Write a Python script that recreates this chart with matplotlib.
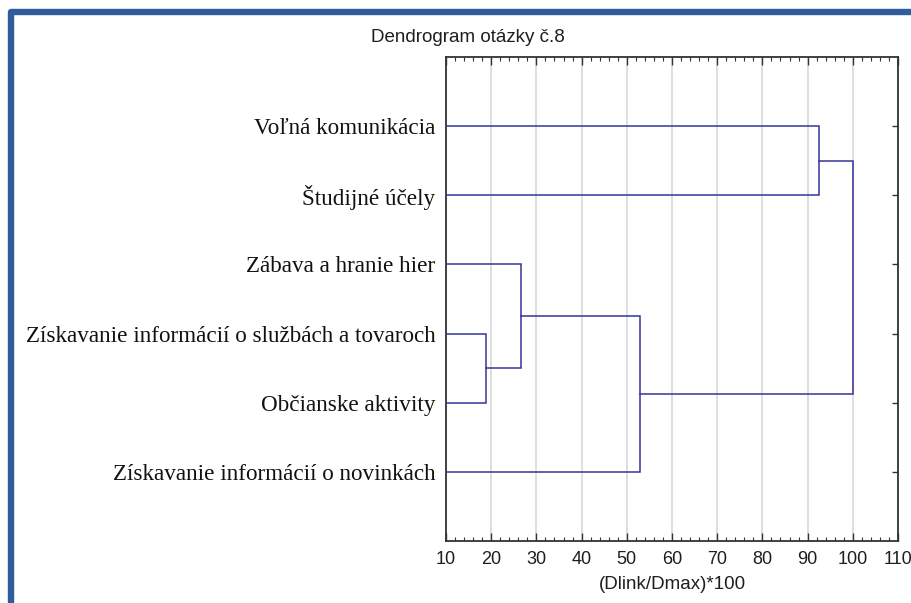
import matplotlib
matplotlib.use("Agg")
import matplotlib.pyplot as plt
from matplotlib.patches import PathPatch
from matplotlib.path import Path
from matplotlib.ticker import MultipleLocator

# Leaves in display order (top to bottom)
leaf_labels = [
    "Voľná komunikácia",
    "Študijné účely",
    "Zábava a hranie hier",
    "Získavanie informácií o službách a tovaroch",
    "Občianske aktivity",
    "Získavanie informácií o novinkách",
]

# Agglomeration steps: (left node, right node, linkage distance (Dlink/Dmax)*100)
# Nodes 0..5 are leaves, new clusters get ids 6, 7, ...
merge_left = [3, 2, 7, 0, 9]
merge_right = [4, 6, 5, 1, 8]
merge_height = [18.8, 26.5, 52.9, 92.6, 100.0]

x_ticks = [10, 20, 30, 40, 50, 60, 70, 80, 90, 100, 110]

line_color = "#34349a"
frame_color = "#2f5c9b"

fig = plt.figure(figsize=(9.12, 6.03), dpi=100)
fig.patch.set_facecolor("white")

ax = fig.add_axes([446 / 912, 62 / 603, 452 / 912, 484 / 603])

x_min = x_ticks[0]
node_y = {i: i + 1 for i in range(len(leaf_labels))}
node_x = {i: x_min for i in range(len(leaf_labels))}

for k, (a, b, h) in enumerate(zip(merge_left, merge_right, merge_height)):
    new_id = len(leaf_labels) + k
    ya, yb = node_y[a], node_y[b]
    xa, xb = node_x[a], node_x[b]
    ax.plot([xa, h, h, xb], [ya, ya, yb, yb], color=line_color,
            lw=1.1, solid_joinstyle="miter", zorder=3)
    node_y[new_id] = (ya + yb) / 2
    node_x[new_id] = h

ax.set_xlim(x_ticks[0], x_ticks[-1])
ax.set_ylim(len(leaf_labels) + 1, 0)

ax.set_xticks(x_ticks)
ax.xaxis.set_minor_locator(MultipleLocator(2))
ax.set_yticks(range(1, len(leaf_labels) + 1))
ax.set_yticklabels(leaf_labels, family="Liberation Serif", fontsize=16.7,
                   color="#111111")

ax.grid(axis="x", which="major", color="#dcdcdc", lw=1.3, zorder=0)
ax.grid(axis="y", visible=False)

ax.tick_params(axis="x", which="major", direction="in", top=True, bottom=True,
               length=6, width=1.0, color="#333333", pad=7,
               labelsize=13, labelcolor="#1e1e1e")
ax.tick_params(axis="x", which="minor", direction="in", top=True, bottom=True,
               length=3, width=0.8, color="#333333")
ax.tick_params(axis="y", which="major", direction="in", left=False, right=True,
               length=4, width=1.0, color="#333333", pad=7.5)
for lbl in ax.get_xticklabels():
    lbl.set_family("Liberation Sans")

for sp in ax.spines.values():
    sp.set_color("#333333")
    sp.set_linewidth(1.3)

ax.set_xlabel("(Dlink/Dmax)*100", family="Liberation Sans", fontsize=13.5,
              color="#1e1e1e", labelpad=6)

fig.text(468 / 912, 1 - 37 / 603, "Dendrogram otázky č.8",
         family="Liberation Sans", fontsize=13.5, color="#1e1e1e",
         ha="center", va="center")

# Blue frame along the left and top edges of the figure
fx = 10.8 / 912
fy = 1 - 12 / 603
frame_path = Path([(fx, -0.1), (fx, fy), (1.2, fy)],
                  [Path.MOVETO, Path.LINETO, Path.LINETO])
frame = PathPatch(frame_path, transform=fig.transFigure, fill=False,
                  edgecolor=frame_color, lw=4.6, joinstyle="round",
                  capstyle="butt", zorder=10)
fig.patches.append(frame)

fig.savefig("out.png", dpi=100, facecolor="white")
